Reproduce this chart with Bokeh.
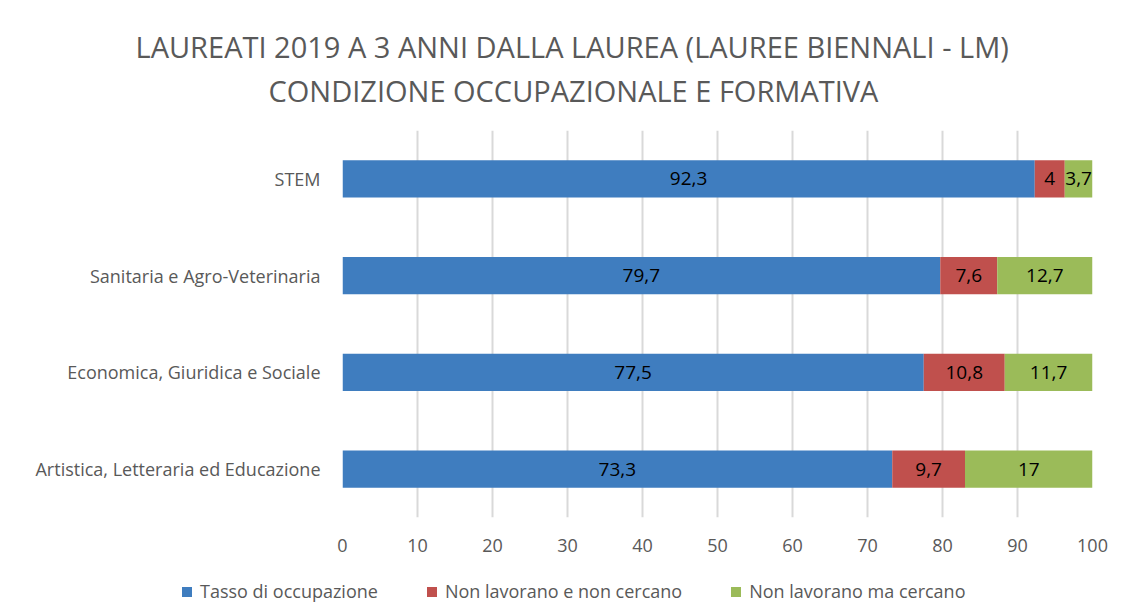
from bokeh.plotting import figure
from bokeh.layouts import column
from bokeh.models import ColumnDataSource, Title, FactorRange, Range1d, FixedTicker, Div
from bokeh.core.properties import value
from bokeh.embed import file_html
from bokeh.resources import INLINE
import numpy as np

categories = ["STEM", "Sanitaria e Agro-Veterinaria", "Economica, Giuridica e Sociale",
              "Artistica, Letteraria ed Educazione"]
occupati = [92.3, 79.7, 77.5, 73.3]
non_cercano = [4.0, 7.6, 10.8, 9.7]
cercano = [3.7, 12.7, 11.7, 17.0]
series_names = ["Tasso di occupazione", "Non lavorano e non cercano", "Non lavorano ma cercano"]
series_keys = ["occ", "nonc", "cerc"]
colors = ["#3F7DBF", "#C0504D", "#9BBB59"]
x_ticks = [0, 10, 20, 30, 40, 50, 60, 70, 80, 90, 100]

FONT = "Open Sans"
GREY = "#595959"

src = ColumnDataSource(dict(cat=categories, occ=occupati, nonc=non_cercano, cerc=cercano))

p = figure(width=1113, height=570, output_backend="svg", toolbar_location=None,
           y_range=FactorRange(*categories[::-1]), x_range=Range1d(0, 100),
           min_border_left=342, min_border_right=21, min_border_top=130, min_border_bottom=53)

renderers = p.hbar_stack(series_keys, y="cat", height=0.385, color=colors, source=src,
                         line_color=None)

# data labels
vals = np.array([occupati, non_cercano, cercano])
ends = np.cumsum(vals, axis=0)
starts = ends - vals
for i in range(3):
    centers = (starts[i] + ends[i]) / 2
    texts = [f"{v:g}".replace(".", ",") for v in vals[i]]
    lsrc = ColumnDataSource(dict(x=centers, y=categories, t=texts))
    p.text(x="x", y="y", text="t", source=lsrc, text_align="center", text_baseline="middle",
           text_font=value(FONT), text_font_size="19px", text_color="#000000")

p.xaxis.ticker = FixedTicker(ticks=x_ticks)
p.xaxis.axis_line_color = None
p.xaxis.major_tick_line_color = None
p.xaxis.minor_tick_line_color = None
p.xaxis.major_label_text_font = FONT
p.xaxis.major_label_text_font_size = "18px"
p.xaxis.major_label_text_color = GREY
p.xaxis.major_label_standoff = 15

p.yaxis.axis_line_color = None
p.yaxis.major_tick_line_color = None
p.yaxis.minor_tick_line_color = None
p.yaxis.major_label_text_font = FONT
p.yaxis.major_label_text_font_size = "18px"
p.yaxis.major_label_text_color = GREY
p.yaxis.major_label_standoff = 16

p.ygrid.grid_line_color = None
p.xgrid.grid_line_color = "#D9D9D9"
p.xgrid.grid_line_width = 2
p.outline_line_color = None

p.title = None
spacer = Title(text=" ", text_font_size="1px", standoff=10)
t2 = Title(text="CONDIZIONE OCCUPAZIONALE E FORMATIVA", align="left", offset=-74, standoff=11,
           vertical_align="top",
           text_font=FONT, text_font_size="29px", text_color=GREY, text_font_style="normal")
t1 = Title(text="LAUREATI 2019 A 3 ANNI DALLA LAUREA (LAUREE BIENNALI - LM)", align="left",
           offset=-207, standoff=0, vertical_align="bottom",
           text_font=FONT, text_font_size="29px", text_color=GREY, text_font_style="normal")
p.add_layout(spacer, "above")
p.add_layout(t2, "above")
p.add_layout(t1, "above")

# legend strip below the chart, built from the series names and colours
items_html = "".join(
    f'<span style="display:inline-block;width:10px;height:10px;background:{c};'
    f'margin-right:8px;"></span><span style="margin-right:49px;white-space:nowrap;">{n}</span>'
    for n, c in zip(series_names, colors))
legend_div = Div(
    text=(f'<div style="display:flex;align-items:center;height:34px;padding-left:177px;'
          f'font-family:\'Open Sans\';font-size:18px;color:{GREY};">{items_html}</div>'),
    width=1113, height=36)

layout = column(p, legend_div, spacing=0)
open("out.html", "w").write(file_html(layout, INLINE))
